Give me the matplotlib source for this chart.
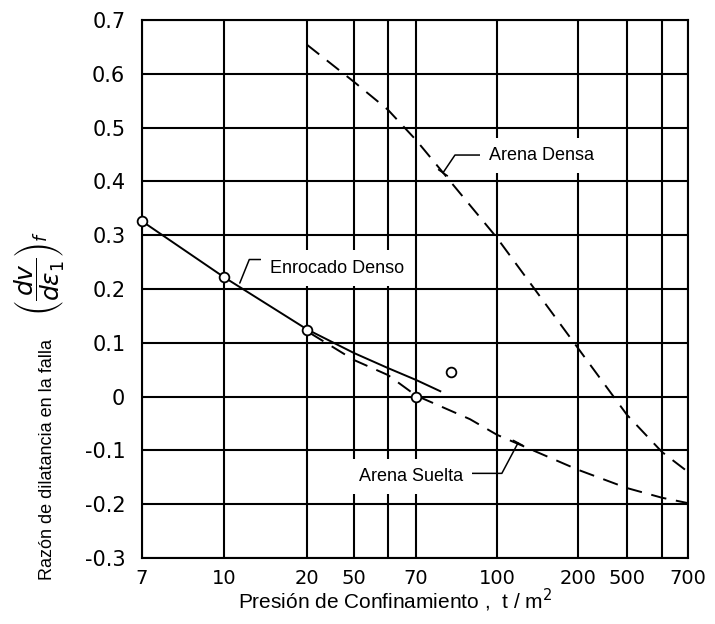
import numpy as np
import matplotlib
matplotlib.use("Agg")
import matplotlib.pyplot as plt

plt.rcParams['font.family'] = ['Liberation Sans', 'DejaVu Sans']

# odd hand-drawn x axis: tick values and where they sit along the axis
axis_vals = [7, 10, 20, 50, 60, 70, 100, 200, 500, 600, 700]
axis_pos = [0, 82, 165, 212, 246, 274, 355, 436, 485, 520, 546]
x_ticks = [7, 10, 20, 50, 70, 100, 200, 500, 700]
x_minor = [60, 600]
y_ticks = [0.7, 0.6, 0.5, 0.4, 0.3, 0.2, 0.1, 0.0, -0.1, -0.2, -0.3]
y_labels = ["0.7", "0.6", "0.5", "0.4", "0.3", "0.2", "0.1", "0", "-0.1", "-0.2", "-0.3"]

# Enrocado Denso (solid line + open circles)
enroc_x = [7, 10, 20, 50, 60, 70, 79]
enroc_y = [0.326, 0.222, 0.125, 0.081, 0.053, 0.031, 0.010]
pts_x = [7, 10, 20, 70, 83]
pts_y = [0.326, 0.222, 0.124, 0.0, 0.046]

# Arena Suelta (dashed)
suelta_x = [22, 50, 60, 70, 90, 100, 200, 500, 600, 700]
suelta_y = [0.118, 0.068, 0.040, 0.002, -0.042, -0.071, -0.136, -0.170, -0.188, -0.198]

# Arena Densa (dashed)
densa_x = [20, 50, 60, 70, 100, 200, 500, 600, 700]
densa_y = [0.654, 0.585, 0.533, 0.477, 0.295, 0.090, -0.034, -0.103, -0.140]


def fwd(x):
    return np.interp(x, axis_vals, axis_pos)


def inv(p):
    return np.interp(p, axis_pos, axis_vals)


fig = plt.figure(figsize=(7.15, 6.24), dpi=100)
ax = fig.add_axes([142 / 715, 1 - 558 / 624, 546 / 715, 538 / 624])
ax.set_xscale('function', functions=(fwd, inv))
ax.set_xlim(7, 700)
ax.set_ylim(-0.3, 0.7)

ax.set_xticks(x_ticks)
ax.set_xticklabels([str(v) for v in x_ticks])
ax.set_xticks(x_minor, minor=True)
ax.set_yticks(y_ticks)
ax.set_yticklabels(y_labels)
ax.grid(True, which='both', color='black', linewidth=1.5, zorder=0)
ax.set_axisbelow(True)
ax.tick_params(which='both', length=0)
ax.tick_params(axis='y', pad=12, labelsize=15, labelfontfamily='DejaVu Sans')
ax.tick_params(axis='x', pad=8, labelsize=14, labelfontfamily='DejaVu Sans')
for s in ax.spines.values():
    s.set_linewidth(1.5)

dash = (0, (8, 5))
ax.plot(enroc_x, enroc_y, color='black', lw=1.4, zorder=4)
ax.plot(suelta_x, suelta_y, color='black', lw=1.4, linestyle=dash, zorder=4)
ax.plot(densa_x, densa_y, color='black', lw=1.4, linestyle=dash, zorder=4)
ax.plot(pts_x, pts_y, 'o', ms=7, mfc='white', mec='black', mew=1.3, zorder=5, clip_on=False)

box = dict(boxstyle='square,pad=0.5', facecolor='white', edgecolor='none')
ax.annotate("Arena Densa", xy=(80, 0.416), xytext=(97, 0.449), fontsize=13,
            ha='left', va='center', bbox=box, zorder=3,
            arrowprops=dict(arrowstyle='-[, widthB=0.3, lengthB=0.0', color='black', lw=1.1,
                            connectionstyle='angle,angleA=0,angleB=56,rad=0',
                            relpos=(0.0, 0.5), shrinkA=0, shrinkB=0))
ax.annotate("Enrocado Denso", xy=(11.9, 0.211), xytext=(15.5, 0.239), fontsize=13,
            ha='left', va='center', bbox=box, zorder=3,
            arrowprops=dict(arrowstyle='-', color='black', lw=1.1,
                            connectionstyle='angle,angleA=0,angleB=68,rad=0',
                            relpos=(0.1, 1.0), shrinkA=0, shrinkB=0))
ax.annotate("Arena Suelta", xy=(126, -0.086), xytext=(51.5, -0.149), fontsize=13,
            ha='left', va='center', bbox=box, zorder=3,
            arrowprops=dict(arrowstyle='-[, widthB=0.3, lengthB=0.0', color='black', lw=1.1,
                            connectionstyle='angle,angleA=0,angleB=62,rad=0',
                            relpos=(1.0, 0.7), shrinkA=0, shrinkB=0))

fig.text(48 / 715, 1 - 460 / 624, "Razón de dilatancia en la falla", rotation=90,
         ha='center', va='center', fontsize=13)
fig.text(40 / 715, 1 - 273 / 624, r"$\left(\dfrac{dv}{d\epsilon_1}\right)_f$", rotation=90,
         ha='center', va='center', fontsize=18)
fig.text(395 / 715, 1 - 600 / 624, "Presión de Confinamiento ,  t / m$^2$",
         ha='center', va='center', fontsize=15)

fig.savefig("out.png", dpi=100)
